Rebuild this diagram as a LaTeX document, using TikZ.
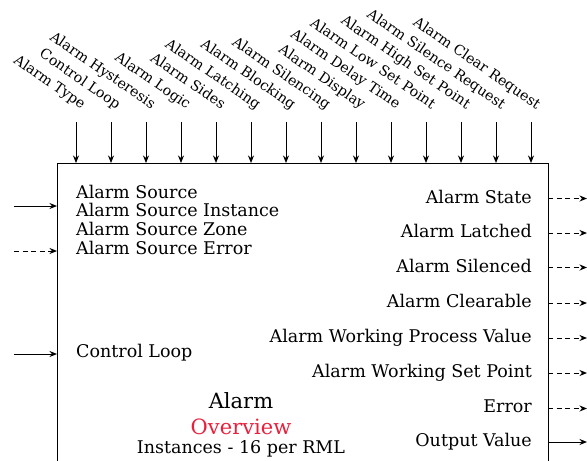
\documentclass[tikz,border=0pt]{standalone}
\usepackage{fontspec}
\setmainfont{DejaVu Serif}
\usepackage{xcolor}
\usepackage{tikz}
\usetikzlibrary{arrows,arrows.meta,positioning}

\definecolor{overviewred}{RGB}{232,32,60}

\begin{document}
\begin{tikzpicture}[
    x=1pt, y=-1pt,
    box/.style={rectangle, draw, line width=1pt, outer sep=0pt, inner sep=0pt},
    toplabel/.style={anchor=base east, rotate=-34.5, inner sep=0pt, font=\fontsize{14.2}{16}\selectfont},
    inlabel/.style={anchor=base west, inner sep=0pt, font=\fontsize{17.5}{20}\selectfont},
    outlabel/.style={anchor=base east, inner sep=0pt, font=\fontsize{17.5}{20}\selectfont},
    arrow/.style={->, >={Stealth[length=7.5pt, width=6pt]}, line width=1pt},
    dasharrow/.style={->, >={Stealth[length=7.5pt, width=6pt]}, line width=1pt, dash pattern=on 5pt off 3.5pt}
]
\useasboundingbox (0,0) rectangle (587,461);
\clip (0,0) rectangle (587,461);

% Block
\node[box, anchor=north west, minimum width=491pt, minimum height=330pt] (alarm) at (57,163) {};

% Parameter inputs on top
\coordinate (t1) at (76,122);
\coordinate (t2) at (111,122);
\coordinate (t3) at (146,122);
\coordinate (t4) at (181,122);
\coordinate (t5) at (216,122);
\coordinate (t6) at (251,122);
\coordinate (t7) at (286,122);
\coordinate (t8) at (321,122);
\coordinate (t9) at (356,122);
\coordinate (t10) at (391,122);
\coordinate (t11) at (426,122);
\coordinate (t12) at (461,122);
\coordinate (t13) at (496,122);
\coordinate (t14) at (531,122);

\node[toplabel] (p1) at (81.5,109.5) {Alarm Type};
\node[toplabel] (p2) at (116.5,109.5) {Control Loop};
\node[toplabel] (p3) at (151.5,109.5) {Alarm Hysteresis};
\node[toplabel] (p4) at (186.5,109.5) {Alarm Logic};
\node[toplabel] (p5) at (221.5,109.5) {Alarm Sides};
\node[toplabel] (p6) at (256.5,109.5) {Alarm Latching};
\node[toplabel] (p7) at (291.5,109.5) {Alarm Blocking};
\node[toplabel] (p8) at (326.5,109.5) {Alarm Silencing};
\node[toplabel] (p9) at (361.5,109.5) {Alarm Display};
\node[toplabel] (p10) at (396.5,109.5) {Alarm Delay Time};
\node[toplabel] (p11) at (431.5,109.5) {Alarm Low Set Point};
\node[toplabel] (p12) at (466.5,109.5) {Alarm High Set Point};
\node[toplabel] (p13) at (501.5,109.5) {Alarm Silence Request};
\node[toplabel] (p14) at (536.5,109.5) {Alarm Clear Request};

\draw[arrow] (t1) -- (t1 |- alarm.north);
\draw[arrow] (t2) -- (t2 |- alarm.north);
\draw[arrow] (t3) -- (t3 |- alarm.north);
\draw[arrow] (t4) -- (t4 |- alarm.north);
\draw[arrow] (t5) -- (t5 |- alarm.north);
\draw[arrow] (t6) -- (t6 |- alarm.north);
\draw[arrow] (t7) -- (t7 |- alarm.north);
\draw[arrow] (t8) -- (t8 |- alarm.north);
\draw[arrow] (t9) -- (t9 |- alarm.north);
\draw[arrow] (t10) -- (t10 |- alarm.north);
\draw[arrow] (t11) -- (t11 |- alarm.north);
\draw[arrow] (t12) -- (t12 |- alarm.north);
\draw[arrow] (t13) -- (t13 |- alarm.north);
\draw[arrow] (t14) -- (t14 |- alarm.north);

% Inputs on the left
\node[inlabel] (src) at (76,198) {Alarm Source};
\node[inlabel] (srcinst) at (76,216.7) {Alarm Source Instance};
\node[inlabel] (srczone) at (76,235.4) {Alarm Source Zone};
\node[inlabel] (srcerr) at (76,254) {Alarm Source Error};
\node[inlabel] (loop) at (76,357.5) {Control Loop};

\coordinate (i1) at (14,206);
\coordinate (i2) at (14,251);
\coordinate (i3) at (14,354);
\draw[arrow] (i1) -- (i1 -| alarm.west);
\draw[dasharrow] (i2) -- (i2 -| alarm.west);
\draw[arrow] (i3) -- (i3 -| alarm.west);

% Outputs on the right
\node[outlabel] (state) at (532,203) {Alarm State};
\node[outlabel] (latched) at (532,237.5) {Alarm Latched};
\node[outlabel] (silenced) at (532,272) {Alarm Silenced};
\node[outlabel] (clearable) at (532,307.5) {Alarm Clearable};
\node[outlabel] (wpv) at (532,342.5) {Alarm Working Process Value};
\node[outlabel] (wsp) at (532,377.5) {Alarm Working Set Point};
\node[outlabel] (err) at (532,412) {Error};
\node[outlabel] (outval) at (532,446.5) {Output Value};

\coordinate (o1) at (587,198.5);
\coordinate (o2) at (587,233);
\coordinate (o3) at (587,267.5);
\coordinate (o4) at (587,303);
\coordinate (o5) at (587,338);
\coordinate (o6) at (587,373);
\coordinate (o7) at (587,408.5);
\coordinate (o8) at (587,442);
\draw[dasharrow] (alarm.east |- o1) -- (o1);
\draw[dasharrow] (alarm.east |- o2) -- (o2);
\draw[dasharrow] (alarm.east |- o3) -- (o3);
\draw[dasharrow] (alarm.east |- o4) -- (o4);
\draw[dasharrow] (alarm.east |- o5) -- (o5);
\draw[dasharrow] (alarm.east |- o6) -- (o6);
\draw[dasharrow] (alarm.east |- o7) -- (o7);
\draw[arrow] (alarm.east |- o8) -- (o8);

% Title
\node[anchor=base, inner sep=0pt, font=\fontsize{21}{24}\selectfont] (title) at (241,408) {Alarm};
\node[anchor=base, inner sep=0pt, text=overviewred, font=\fontsize{21}{24}\selectfont] (overview) at (241,434.5) {Overview};
\node[anchor=base, inner sep=0pt, font=\fontsize{17.5}{20}\selectfont] (inst) at (241,453) {Instances - 16 per RML};

\end{tikzpicture}
\end{document}
